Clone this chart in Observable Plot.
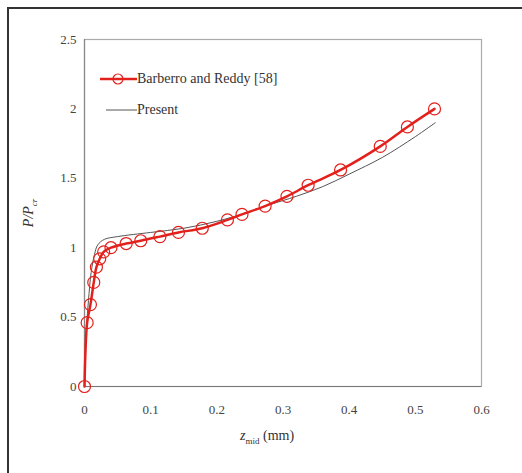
<!DOCTYPE html>
<html>
<head>
<meta charset="utf-8">
<script src="https://cdn.jsdelivr.net/npm/d3@7"></script>
<script src="https://cdn.jsdelivr.net/npm/@observablehq/plot@0.6"></script>
<style>
  html, body { margin: 0; padding: 0; background: #fff; }
  #wrap { position: relative; width: 522px; height: 473px; overflow: hidden; font-family: "Times New Roman", "Liberation Serif", "DejaVu Serif", serif; }
  #border { position: absolute; left: 7px; top: 7px; width: 530px; height: 480px; border-left: 2px solid #333; border-top: 2px solid #333; box-sizing: border-box; }
  .lab { position: absolute; color: #333; font-family: "Times New Roman", "Liberation Serif", serif; white-space: nowrap; }
  #legend { position: absolute; left: 100px; top: 68px; font-size: 14px; color: #333; font-family: "Times New Roman", "Liberation Serif", serif; }
  #legend .row { display: flex; align-items: center; height: 22px; margin-bottom: 9px; }
  #legend svg { display: block; }
</style>
</head>
<body>
<div id="wrap">
  <div id="chart"></div>
  <div id="border"></div>
  <div id="legend">
    <div class="row"><svg width="37" height="16"><line x1="0" y1="8" x2="37" y2="8" stroke="#e3211c" stroke-width="2.5"/><circle cx="18" cy="8" r="5" fill="none" stroke="#e3211c" stroke-width="1.2"/></svg><span>Barberro and Reddy [58]</span></div>
    <div class="row"><svg width="37" height="16"><line x1="6" y1="8" x2="37" y2="8" stroke="#555" stroke-width="1"/></svg><span>Present</span></div>
  </div>
  <div class="lab" id="ylab" style="left:16px; top:204px; transform: rotate(-90deg); font-size:14px; font-style:italic;">P/P<sub style="font-size:9px">cr</sub></div>
  <div class="lab" id="xlab" style="left:240px; top:428px; font-size:14px;"><i>z</i><sub style="font-size:9px">mid</sub> (mm)</div>
</div>
<script>
const refX = [0, 0.004, 0.009, 0.014, 0.018, 0.023, 0.029, 0.040, 0.063, 0.085, 0.114, 0.142, 0.178, 0.216, 0.238, 0.273, 0.306, 0.338, 0.387, 0.447, 0.488, 0.529];
const refY = [0, 0.46, 0.59, 0.75, 0.86, 0.92, 0.97, 1.00, 1.03, 1.05, 1.08, 1.11, 1.14, 1.20, 1.24, 1.30, 1.37, 1.45, 1.56, 1.73, 1.87, 2.00];
const presentX = [0, 0.003, 0.006, 0.010, 0.015, 0.020, 0.030, 0.050, 0.100, 0.150, 0.200, 0.250, 0.280, 0.320, 0.360, 0.400, 0.450, 0.500, 0.530];
const presentY = [0, 0.42, 0.62, 0.82, 0.95, 1.02, 1.06, 1.08, 1.11, 1.14, 1.19, 1.26, 1.31, 1.37, 1.44, 1.53, 1.65, 1.80, 1.90];
const xTicks = [0, 0.1, 0.2, 0.3, 0.4, 0.5, 0.6];
const yTicks = [0, 0.5, 1, 1.5, 2, 2.5];

const ref = refX.map((x, i) => ({x, y: refY[i]}));
const present = presentX.map((x, i) => ({x, y: presentY[i]}));

const chart = Plot.plot({
  width: 522,
  height: 473,
  marginLeft: 84,
  marginRight: 41,
  marginTop: 39,
  marginBottom: 87,
  style: {fontFamily: "'Times New Roman', 'Liberation Serif', serif", fontSize: "13px", color: "#444", background: "transparent"},
  x: {domain: [0, 0.6], ticks: xTicks, tickFormat: d => String(d), label: null, tickSize: 0, tickPadding: 18},
  y: {domain: [0, 2.5], ticks: yTicks, tickFormat: d => String(d), label: null, tickSize: 0, tickPadding: 8},
  marks: [
    Plot.frame({stroke: "#aaa", strokeWidth: 1.2}),
    Plot.ruleX([0], {stroke: "#888", strokeWidth: 1.2}),
    Plot.ruleY([0], {stroke: "#777", strokeWidth: 1.2}),
    Plot.line(present, {x: "x", y: "y", stroke: "#555", strokeWidth: 1, curve: "catmull-rom"}),
    Plot.line(ref, {x: "x", y: "y", stroke: "#e3211c", strokeWidth: 2.5, curve: "catmull-rom"}),
    Plot.dot(ref, {x: "x", y: "y", r: 6, stroke: "#e3211c", strokeWidth: 1.2, fill: "none", symbol: "circle"})
  ]
});
document.getElementById("chart").appendChild(chart);
</script>
</body>
</html>
